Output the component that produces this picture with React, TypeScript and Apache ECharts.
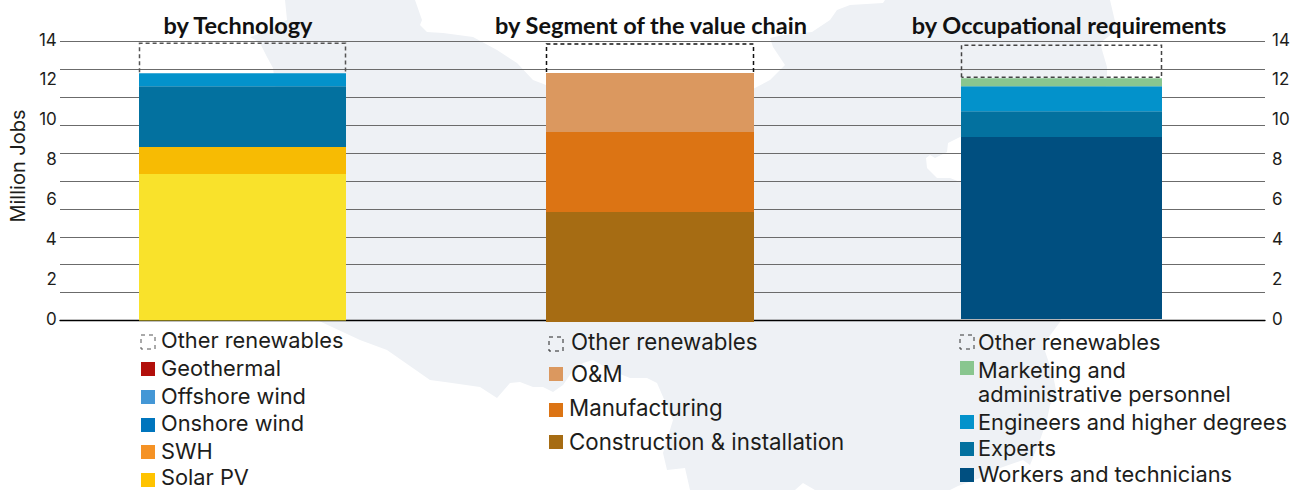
import React, { useEffect, useRef } from "react";
import * as echarts from "echarts";

const yMax = 14;
const labelStep = 2;
const gridStep = 1.4;

const techNames = ["Solar PV", "SWH", "Onshore wind", "Offshore wind", "Geothermal", "Other renewables"];
const techValues = [7.35, 1.35, 3.06, 0.65, 0, 1.5];
const techBarColors = ["#F9E22B", "#F7BB03", "#03719F", "#0392CB", "#B20F0B", "transparent"];
const techLegendColors = ["#FFC300", "#F59225", "#0075BD", "#4497D6", "#B20F0B", "dashed"];

const segNames = ["Construction & installation", "Manufacturing", "O&M", "Other renewables"];
const segValues = [5.52, 4.01, 2.96, 1.46];
const segBarColors = ["#A66C13", "#DC7414", "#DB985F", "transparent"];

const occNames = ["Workers and technicians", "Experts", "Engineers and higher degrees", "Marketing and\nadministrative personnel", "Other renewables"];
const occValues = [9.13, 1.3, 1.25, 0.4, 1.66];
const occBarColors = ["#004F80", "#03719F", "#0392CB", "#89C68F", "transparent"];

const titles = ["by Technology", "by Segment of the value chain", "by Occupational requirements"];

const FONT = "Inter, 'Noto Sans', sans-serif";
const TITLE_FONT = "Lato, 'Noto Sans', sans-serif";
const INK = "#1d1d1b";

const mapOutline = [
  [285, 0], [287, 20], [270, 30], [250, 37], [260, 43], [267, 57], [273, 68], [290, 200], [317, 320],
  [360, 340], [387, 350], [430, 380], [445, 382], [480, 387], [497, 398], [510, 383], [520, 382], [533, 387],
  [543, 387], [553, 392], [563, 385], [572, 372], [583, 363], [593, 360], [610, 370], [630, 378], [647, 378],
  [657, 383], [673, 420], [663, 453], [667, 470], [685, 468], [690, 490], [795, 490], [803, 483], [815, 490],
  [950, 490], [958, 486], [980, 478], [1000, 468], [1023, 460], [1030, 465], [1040, 440], [1047, 420], [1050, 405],
  [1057, 395], [1053, 375], [1043, 345], [1060, 322], [1090, 200], [1107, 78], [1107, 67], [1100, 43], [1117, 30],
  [1110, 0], [885, 0], [883, 3], [850, 5], [837, 10], [830, 20], [812, 32], [783, 35], [770, 38], [773, 47],
  [785, 65], [770, 80], [753, 89], [700, 120], [600, 120], [546, 85], [533, 80], [517, 63], [497, 50], [473, 37],
  [443, 33], [427, 32], [420, 25], [422, 20], [415, 0],
];
const bayOutline = [
  [926, 158], [930, 155], [935, 158], [947, 152], [948, 143], [960, 137], [975, 137], [975, 182], [960, 182],
  [950, 178], [937, 178], [927, 168],
];

const plotTop = 41.5;
const plotHeight = 279;

function barSeries(names: string[], values: number[], colors: string[], idx: number, stack: string, dash: string, closed: boolean) {
  return names.map((name, i) => {
    if (colors[i] === "transparent") {
      const base = values.slice(0, i).reduce((a, b) => a + b, 0);
      return {
        type: "custom",
        name,
        xAxisIndex: idx,
        yAxisIndex: idx + 1,
        z: 3,
        data: [[0, base, base + values[i]]],
        renderItem: (_: any, api: any) => {
          const w = api.size([1, 0])[0];
          const [cx, y0] = api.coord([api.value(0), api.value(1)]);
          const [, y1] = api.coord([api.value(0), api.value(2)]);
          const l = cx - w / 2 + 0.5;
          const r = cx + w / 2 - 0.5;
          const pts = [[l, y0 - 1], [l, y1], [r, y1], [r, y0 - 1]];
          if (closed) pts.push([l, y0 - 1]);
          return {
            type: "polyline",
            shape: { points: pts },
            style: { stroke: dash, lineWidth: 1.5, lineDash: [4, 3], fill: "none" },
          };
        },
      };
    }
    return {
      type: "bar",
      name,
      stack,
      xAxisIndex: idx,
      yAxisIndex: idx + 1,
      barWidth: "100%",
      z: 2,
      data: [values[i]],
      itemStyle: { color: colors[i] },
    };
  });
}

function legendBlock(names: string[], colors: string[], swX: number, textX: number[], swY: number[], textY: number[], dash: string, size: number) {
  const out: any[] = [];
  names.forEach((name, i) => {
    const c = colors[i];
    out.push({
      type: "rect",
      z: 20,
      shape: { x: swX, y: swY[i], width: 14, height: 14 },
      style: c === "dashed"
        ? { fill: "transparent", stroke: dash, lineWidth: 1, lineDash: [4, 4] }
        : { fill: c },
    });
    out.push({
      type: "text",
      z: 20,
      x: textX[i],
      y: textY[i],
      style: {
        text: name,
        font: `${size}px ${FONT}`,
        fill: INK,
        verticalAlign: "middle",
        align: "left",
        lineHeight: name.includes("\n") ? 24 : 20,
      },
    });
  });
  return out;
}

export default function App() {
  const ref = useRef<HTMLDivElement>(null);
  useEffect(() => {
    const chart = echarts.init(ref.current!, undefined, { renderer: "svg" });
    const hiddenValue = (gridIndex: number) => ({
      type: "value", gridIndex, min: 0, max: yMax, show: false, splitLine: { show: false },
    });
    const hiddenCat = (gridIndex: number) => ({
      type: "category", gridIndex, data: [""], show: false, axisTick: { show: false },
    });
    const valueLabels = { color: INK, fontFamily: FONT, fontSize: 17 };

    const legends = [
      ...legendBlock(
        [...techNames].reverse(), [...techLegendColors].reverse(), 141,
        [161, 161, 161, 161, 161, 161], [335, 362, 390, 418, 445, 473], [340, 368, 396, 423, 451, 477], "#555", 21.8),
      ...legendBlock(
        [...segNames].reverse(), ["dashed", ...[...segBarColors].slice(0, 3).reverse()], 549,
        [571, 571, 569, 569], [337, 367, 403, 435], [341, 373, 407, 441], "#222", 22.3),
      ...legendBlock(
        [...occNames].reverse(), ["dashed", ...[...occBarColors].slice(0, 4).reverse()], 960,
        [978, 978, 978, 978, 978], [335, 361, 415, 442, 468], [342, 382, 422, 448, 474], "#333", 21.8),
    ];

    chart.setOption({
      animation: false,
      title: titles.map((text, i) => ({
        text,
        left: [233, 646, 1064][i],
        top: 8,
        textAlign: "center",
        textStyle: { fontFamily: TITLE_FONT, fontSize: 23.5, fontWeight: 700, color: "#111" },
      })),
      grid: [
        { left: 60, width: 1205, top: plotTop, height: plotHeight },
        { left: 139, width: 207, top: plotTop, height: plotHeight },
        { left: 546, width: 208, top: plotTop + 1.5, height: plotHeight },
        { left: 961, width: 201, top: plotTop - 1.5, height: plotHeight },
        { left: 60, width: 1205, top: plotTop - 2, height: plotHeight },
      ],
      xAxis: [
        { type: "category", gridIndex: 0, data: [""], axisTick: { show: false }, axisLabel: { show: false },
          axisLine: { show: true, onZero: false, lineStyle: { color: "#000", width: 1.3 } } },
        hiddenCat(1), hiddenCat(2), hiddenCat(3), hiddenCat(4),
      ],
      yAxis: [
        { type: "value", gridIndex: 4, min: 0, max: yMax, interval: labelStep, position: "left",
          name: "Million Jobs", nameLocation: "middle", nameGap: 33, nameRotate: 90,
          nameTextStyle: { color: INK, fontFamily: FONT, fontSize: 20, padding: [0, 0, 0, 26] },
          axisLine: { show: false }, axisTick: { show: false }, splitLine: { show: false },
          axisLabel: { ...valueLabels, margin: 8 } },
        { type: "value", gridIndex: 4, min: 0, max: yMax, interval: labelStep, position: "right",
          axisLine: { show: false }, axisTick: { show: false }, splitLine: { show: false },
          axisLabel: { ...valueLabels, margin: 7 } },
        hiddenValue(1), hiddenValue(2), hiddenValue(3),
        { type: "value", gridIndex: 0, min: 0, max: yMax, interval: gridStep, position: "left",
          axisLine: { show: false }, axisTick: { show: false }, axisLabel: { show: false },
          splitLine: { show: true, lineStyle: { color: "#6b6b6b", width: 1.2 } } },
      ],
      series: [
        { type: "bar", xAxisIndex: 0, yAxisIndex: 5, data: [0], silent: true },
        ...barSeries(techNames, techValues, techBarColors, 1, "tech", "#555", false),
        ...barSeries(segNames, segValues, segBarColors, 2, "seg", "#111", false),
        ...barSeries(occNames, occValues, occBarColors, 3, "occ", "#444", true),
      ],
      graphic: [
        { type: "polygon", z: -10, shape: { points: mapOutline }, style: { fill: "#EEF1F5" }, silent: true },
        { type: "polygon", z: -9, shape: { points: bayOutline }, style: { fill: "#FFFFFF" }, silent: true },
        ...legends,
      ],
    });
    return () => chart.dispose();
  }, []);
  return <div ref={ref} style={{ position: "absolute", left: 0, top: 0, width: 1297, height: 490, background: "#fff" }} />;
}
